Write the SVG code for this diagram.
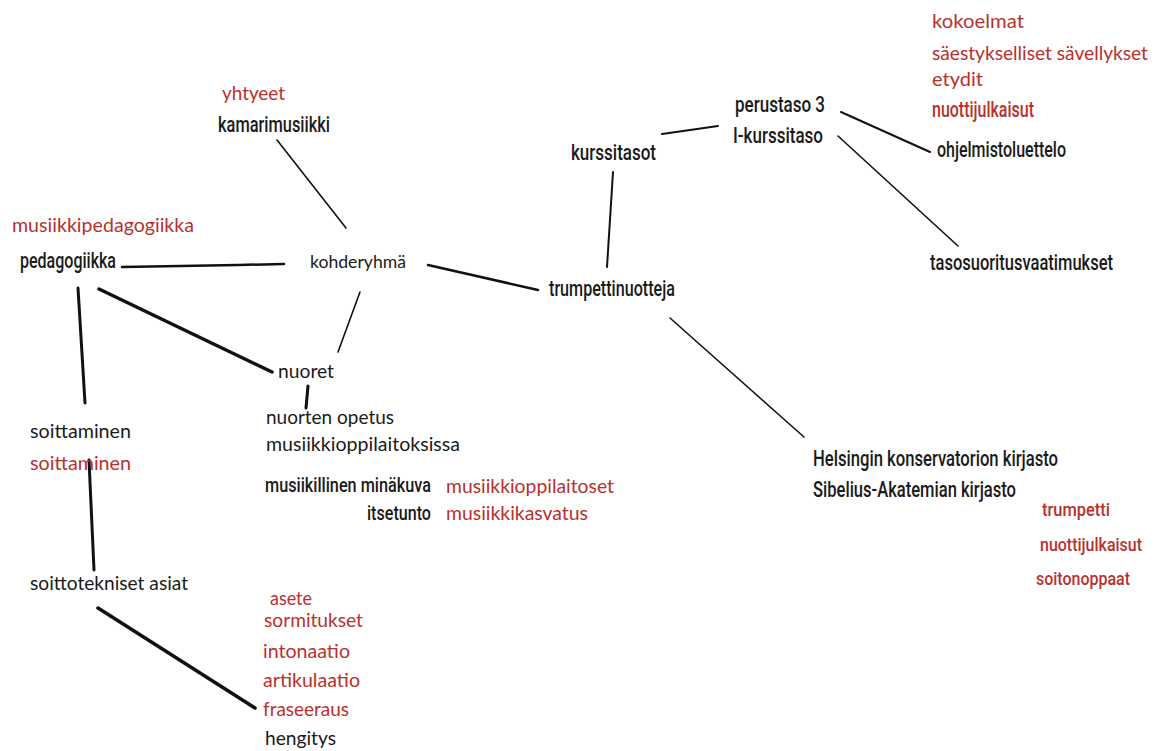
<svg xmlns="http://www.w3.org/2000/svg" width="1165" height="751" viewBox="0 0 1165 751">
<style>
.c{font-family:Lato,"Open Sans","Liberation Sans",sans-serif;font-size:19px;fill:#1a1a1a}
.n{font-family:Roboto,"Liberation Sans",sans-serif;font-size:22px;font-weight:500;fill:#1a1a1a}
.r{fill:#b8302e}
.l{stroke:#111;fill:none;stroke-linecap:round}
</style>
<rect width="1165" height="751" fill="#fff"/>
<g id="connectors">
<line class="l" x1="277" y1="140" x2="346" y2="228" stroke-width="1.6"/>
<polyline class="l" points="122,267 180,266 238,265 284,264" stroke-width="2.5"/>
<line class="l" x1="428" y1="265" x2="538" y2="290" stroke-width="2.5"/>
<line class="l" x1="360" y1="292" x2="338" y2="352" stroke-width="1.6"/>
<line class="l" x1="78" y1="288" x2="85" y2="403" stroke-width="3"/>
<line class="l" x1="99" y1="289" x2="272" y2="372" stroke-width="3.5"/>
<line class="l" x1="308" y1="386" x2="306" y2="408" stroke-width="3"/>
<line class="l" x1="89" y1="460" x2="94" y2="570" stroke-width="3"/>
<line class="l" x1="98" y1="608" x2="255" y2="708" stroke-width="3.5"/>
<line class="l" x1="613" y1="172" x2="607" y2="267" stroke-width="2"/>
<polyline class="l" points="662,134 690,130 718,126" stroke-width="2"/>
<line class="l" x1="841" y1="112" x2="930" y2="152" stroke-width="2"/>
<line class="l" x1="838" y1="136" x2="958" y2="246" stroke-width="1.6"/>
<line class="l" x1="670" y1="318" x2="804" y2="437" stroke-width="1.6"/>
</g>
<g id="kamarimusiikki">
<text class="c r" x="222" y="100" textLength="63" lengthAdjust="spacingAndGlyphs">yhtyeet</text>
<text class="n" x="218" y="132" textLength="112" lengthAdjust="spacingAndGlyphs">kamarimusiikki</text>
</g>
<g id="pedagogiikka">
<text class="c r" x="12" y="232" textLength="182" lengthAdjust="spacingAndGlyphs">musiikkipedagogiikka</text>
<text class="n" x="20" y="268" textLength="96" lengthAdjust="spacingAndGlyphs">pedagogiikka</text>
</g>
<g id="kohderyhma">
<text class="c" x="310" y="268" style="font-size:17px" textLength="96" lengthAdjust="spacingAndGlyphs">kohderyhmä</text>
</g>
<g id="trumpettinuotteja">
<text class="n" x="549" y="296" textLength="126" lengthAdjust="spacingAndGlyphs">trumpettinuotteja</text>
</g>
<g id="kurssitasot">
<text class="n" x="571" y="160" textLength="85" lengthAdjust="spacingAndGlyphs">kurssitasot</text>
</g>
<g id="perustaso">
<text class="n" x="735" y="112" textLength="90" lengthAdjust="spacingAndGlyphs">perustaso 3</text>
<text class="n" x="733" y="143" textLength="90" lengthAdjust="spacingAndGlyphs">I-kurssitaso</text>
</g>
<g id="ohjelmistoluettelo">
<text class="c r" x="932" y="28" textLength="92" lengthAdjust="spacingAndGlyphs">kokoelmat</text>
<text class="c r" x="932" y="60" textLength="216" lengthAdjust="spacingAndGlyphs">säestykselliset sävellykset</text>
<text class="c r" x="932" y="86" textLength="51" lengthAdjust="spacingAndGlyphs">etydit</text>
<text class="n r" x="932" y="117" textLength="102" lengthAdjust="spacingAndGlyphs">nuottijulkaisut</text>
<text class="n" x="937" y="157" textLength="129" lengthAdjust="spacingAndGlyphs">ohjelmistoluettelo</text>
</g>
<g id="tasosuoritusvaatimukset">
<text class="n" x="930" y="270" textLength="183" lengthAdjust="spacingAndGlyphs">tasosuoritusvaatimukset</text>
</g>
<g id="nuoret">
<text class="c" x="278" y="378" textLength="56" lengthAdjust="spacingAndGlyphs">nuoret</text>
</g>
<g id="nuorten-opetus">
<text class="c" x="266" y="424" textLength="128" lengthAdjust="spacingAndGlyphs">nuorten opetus</text>
<text class="c" x="266" y="451" textLength="194" lengthAdjust="spacingAndGlyphs">musiikkioppilaitoksissa</text>
<text class="n" x="265" y="492" style="font-size:21px" textLength="166" lengthAdjust="spacingAndGlyphs">musiikillinen minäkuva</text>
<text class="c r" x="446" y="493" textLength="168" lengthAdjust="spacingAndGlyphs">musiikkioppilaitoset</text>
<text class="n" x="367" y="520" style="font-size:21px" textLength="64" lengthAdjust="spacingAndGlyphs">itsetunto</text>
<text class="c r" x="446" y="520" textLength="142" lengthAdjust="spacingAndGlyphs">musiikkikasvatus</text>
</g>
<g id="soittaminen">
<text class="c" x="30" y="438" textLength="101" lengthAdjust="spacingAndGlyphs">soittaminen</text>
<text class="c r" x="30" y="470" textLength="101" lengthAdjust="spacingAndGlyphs">soittaminen</text>
</g>
<g id="soittotekniset-asiat">
<text class="c" x="30" y="590" textLength="158" lengthAdjust="spacingAndGlyphs">soittotekniset asiat</text>
</g>
<g id="fraseeraus">
<text class="c r" x="270" y="605" textLength="42" lengthAdjust="spacingAndGlyphs">asete</text>
<text class="c r" x="264" y="627" textLength="99" lengthAdjust="spacingAndGlyphs">sormitukset</text>
<text class="c r" x="263" y="658" textLength="87" lengthAdjust="spacingAndGlyphs">intonaatio</text>
<text class="c r" x="263" y="687" textLength="97" lengthAdjust="spacingAndGlyphs">artikulaatio</text>
<text class="c r" x="263" y="716" textLength="86" lengthAdjust="spacingAndGlyphs">fraseeraus</text>
<text class="c" x="265" y="745" textLength="71" lengthAdjust="spacingAndGlyphs">hengitys</text>
</g>
<g id="kirjastot">
<text class="n" x="813" y="466" textLength="245" lengthAdjust="spacingAndGlyphs">Helsingin konservatorion kirjasto</text>
<text class="n" x="813" y="497" textLength="203" lengthAdjust="spacingAndGlyphs">Sibelius-Akatemian kirjasto</text>
<text class="n r" x="1042" y="516" style="font-size:19px" textLength="68" lengthAdjust="spacingAndGlyphs">trumpetti</text>
<text class="n r" x="1040" y="551" style="font-size:19px" textLength="102" lengthAdjust="spacingAndGlyphs">nuottijulkaisut</text>
<text class="n r" x="1036" y="585" style="font-size:19px" textLength="94" lengthAdjust="spacingAndGlyphs">soitonoppaat</text>
</g>
</svg>
